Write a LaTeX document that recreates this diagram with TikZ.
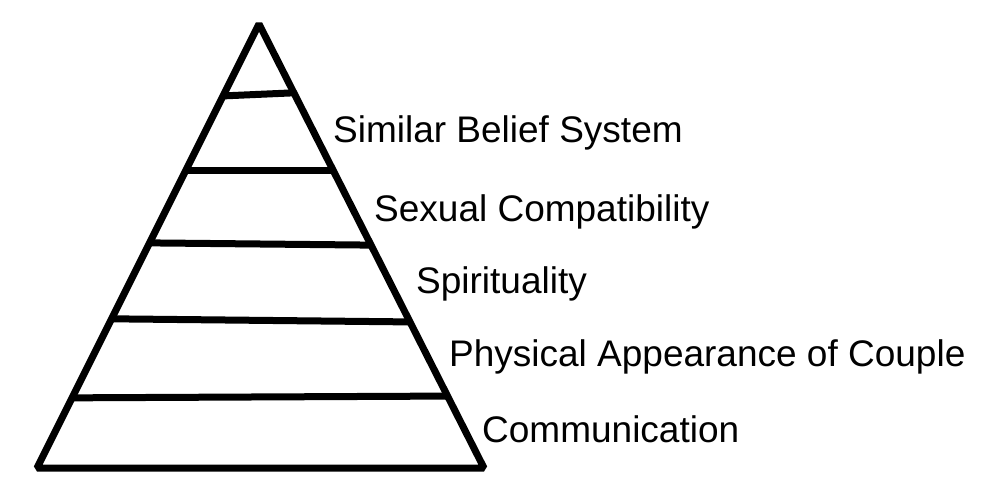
\documentclass[tikz,border=0pt]{standalone}
\usepackage{fontspec}
\setmainfont{Liberation Sans}
\usetikzlibrary{calc}
\begin{document}
\begin{tikzpicture}[x=1pt,y=-1pt,
    tier/.style={line width=7pt},
    label/.style={anchor=base west,inner sep=0pt,font=\fontsize{37}{40}\selectfont}]
        \useasboundingbox (0,0) rectangle (993,489);
        \coordinate (apex) at (259,24);
        \coordinate (bl) at (37,468);
        \coordinate (br) at (484,468);
        \draw[tier,line join=bevel] (apex) -- (bl) -- (br) -- cycle;
        \coordinate (l1) at ($(apex)!.162!(bl)$);
        \coordinate (r1) at ($(apex)!.155!(br)$);
        \coordinate (l2) at ($(apex)!.329!(bl)$);
        \coordinate (r2) at ($(apex)!.329!(br)$);
        \coordinate (l3) at ($(apex)!.493!(bl)$);
        \coordinate (r3) at ($(apex)!.498!(br)$);
        \coordinate (l4) at ($(apex)!.664!(bl)$);
        \coordinate (r4) at ($(apex)!.671!(br)$);
        \coordinate (l5) at ($(apex)!.842!(bl)$);
        \coordinate (r5) at ($(apex)!.838!(br)$);
        \draw[tier] (l1) -- (r1);
        \draw[tier] (l2) -- (r2);
        \draw[tier] (l3) -- (r3);
        \draw[tier] (l4) -- (r4);
        \draw[tier] (l5) -- (r5);
        \node[label] at (333,143) (belief) {Similar Belief System};
        \node[label] at (374,222) (sexual) {Sexual Compatibility};
        \node[label] at (416,293) (spirit) {Spirituality};
        \node[label] at (449,366) (physical) {Physical Appearance of Couple};
        \node[label] at (482,442) (comm) {Communication};
      \end{tikzpicture}
\end{document}
